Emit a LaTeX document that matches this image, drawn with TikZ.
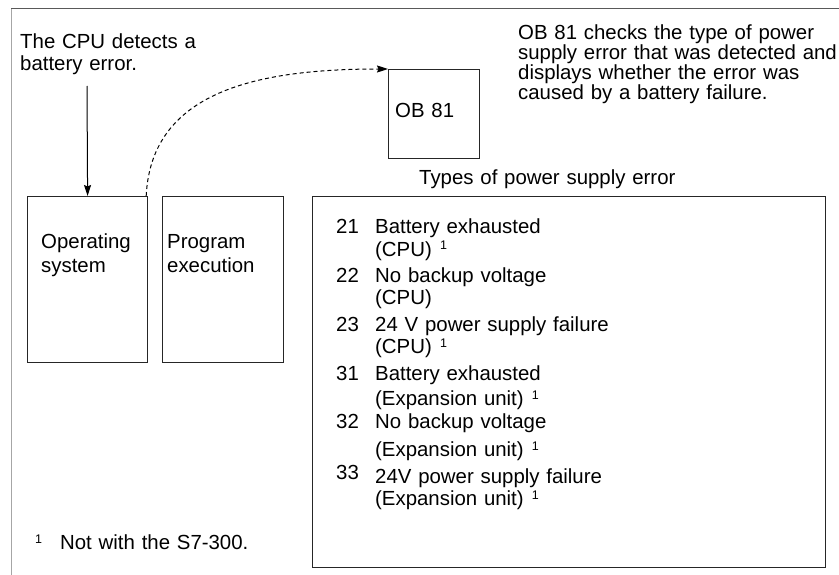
\documentclass[tikz,border=0pt]{standalone}
\usepackage{fontspec}
\setmainfont{Liberation Sans}
\usetikzlibrary{arrows.meta}
\newcommand{\fnmark}{\raisebox{6pt}{\fontsize{12.5}{12.5}\selectfont 1}}

\begin{document}
\begin{tikzpicture}[
  x=1pt, y=-1pt,
  panel/.style={draw=black!85, line width=1.2pt, anchor=north west, inner sep=0pt},
  txt/.style={anchor=base west, inner sep=0pt, align=left, text width=#1, font=\fontsize{20.4}{22}\selectfont},
  txt/.default=330pt,
  arrow/.style={-{Stealth[length=11pt, width=7pt, inset=1.5pt]}, line width=1pt},
]
  \useasboundingbox (0,0) rectangle (839,575);

  % Frame
  \draw[black!65, line width=1pt] (11,9) -- (839,9);
  \draw[black!35, line width=1pt] (11,9) -- (11,575);

  % CPU side
  \node[txt=200pt] (detect) at (20,49) {The CPU detects a\\battery error.};
  \node[panel, minimum width=120pt, minimum height=166pt] (os) at (27,196) {};
  \node[panel, minimum width=121pt, minimum height=166pt] (prog) at (162,196) {};
  \node[txt=110pt, font=\fontsize{20.4}{24}\selectfont] (ostext) at (41,249) {Operating\\system};
  \node[txt=110pt, font=\fontsize{20.4}{24}\selectfont] (progtext) at (167,249) {Program\\execution};

  % OB 81
  \node[panel, minimum width=91pt, minimum height=89pt] (ob) at (388,69) {};
  \node[txt=80pt] (obtext) at (395,118) {OB 81};
  \node[txt=330pt, font=\fontsize{20.4}{20}\selectfont] (check) at (518,40)
    {OB 81 checks the type of power\\supply error that was detected and\\displays whether the error was\\caused by a battery failure.};

  % Types of power supply error
  \node[txt=300pt] (typeslabel) at (419,185) {Types of power supply error};
  \node[panel, minimum width=513pt, minimum height=371pt] (types) at (312,196) {};

  \node[txt=30pt] (n21) at (336,234) {21};
  \node[txt=300pt] (e21) at (375,234) {Battery exhausted\\(CPU)\hspace{0.4em}\fnmark};
  \node[txt=30pt] (n22) at (336,282) {22};
  \node[txt=300pt] (e22) at (375,282) {No backup voltage\\(CPU)};
  \node[txt=30pt] (n23) at (336,331) {23};
  \node[txt=300pt] (e23) at (375,331) {24 V power supply failure\\(CPU)\hspace{0.4em}\fnmark};
  \node[txt=30pt] (n31) at (336,380) {31};
  \node[txt=300pt, font=\fontsize{20.4}{25}\selectfont] (e31) at (375,380) {Battery exhausted\\(Expansion unit)\hspace{0.4em}\fnmark};
  \node[txt=30pt] (n32) at (336,428) {32};
  \node[txt=300pt, font=\fontsize{20.4}{28}\selectfont] (e32) at (375,428) {No backup voltage\\(Expansion unit)\hspace{0.4em}\fnmark};
  \node[txt=30pt] (n33) at (336,479) {33};
  \node[txt=300pt] (e33) at (375,483) {24V power supply failure\\(Expansion unit)\hspace{0.4em}\fnmark};

  % Footnote
  \node[txt=250pt] (note) at (35,549) {\fnmark\hspace{18pt}Not with the S7-300.};

  % Arrows
  \coordinate (detected) at (87,86);
  \draw[arrow] (detected) -- (os.north);
  \draw[arrow, dash pattern=on 4pt off 3pt] ([xshift=-2pt]os.north east) .. controls +(5,-105) and +(-130,0) .. (ob.north west);
\end{tikzpicture}
\end{document}
